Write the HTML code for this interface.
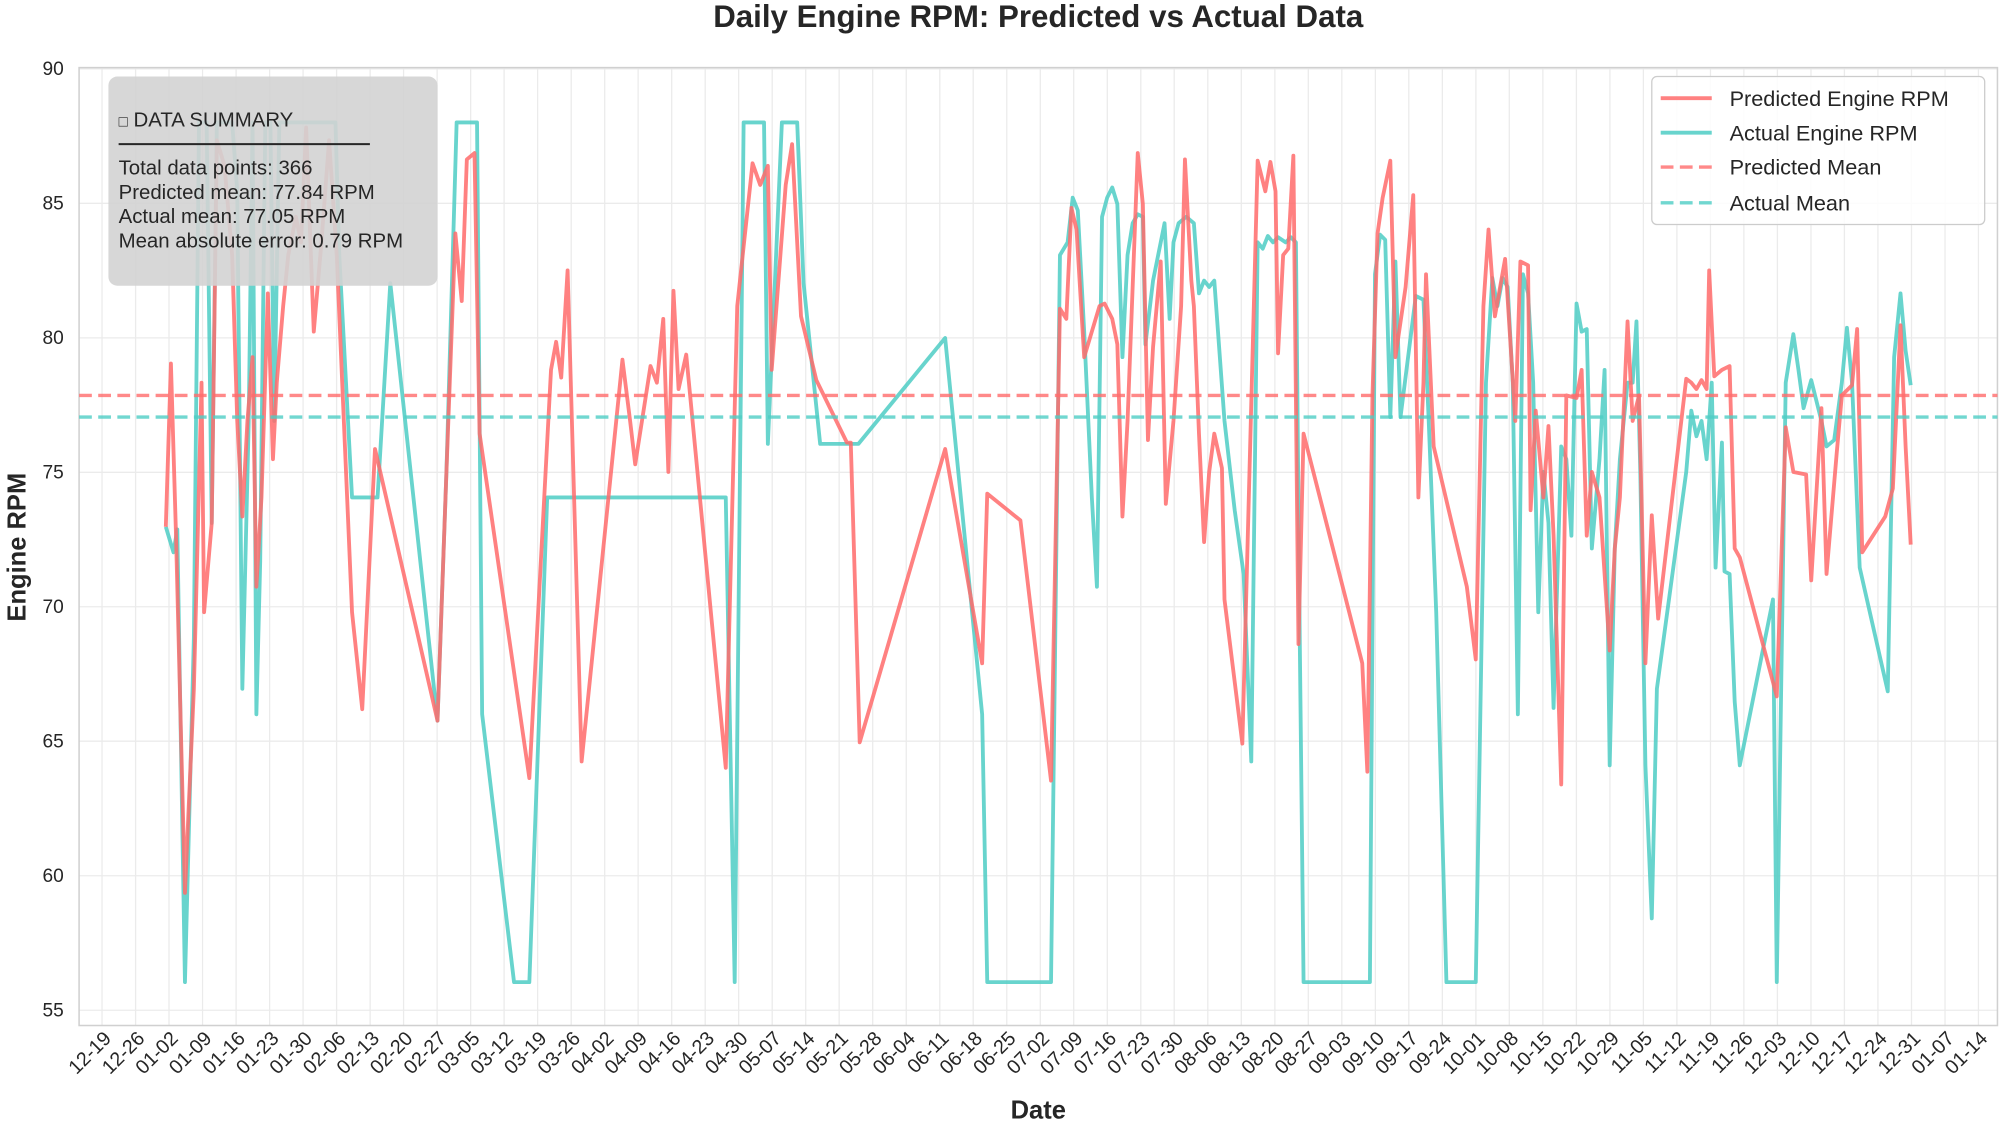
<!DOCTYPE html>
<html><head><meta charset="utf-8"><style>
html,body{margin:0;padding:0;background:#fff;}
svg{display:block;font-family:"Liberation Sans",Arial,sans-serif;}
</style></head><body>
<svg width="2000" height="1125" viewBox="0 0 1568 882" preserveAspectRatio="none" xmlns="http://www.w3.org/2000/svg">
<rect width="1568" height="882" fill="#fff"/>
<text x="814" y="21" text-anchor="middle" font-size="24.5" font-weight="bold" fill="#262626">Daily Engine RPM: Predicted vs Actual Data</text>
<g stroke="#ebebeb" stroke-width="1">
<line x1="62" x2="1566" y1="792" y2="792"/><line x1="62" x2="1566" y1="686.6" y2="686.6"/><line x1="62" x2="1566" y1="581.1" y2="581.1"/><line x1="62" x2="1566" y1="475.7" y2="475.7"/><line x1="62" x2="1566" y1="370.3" y2="370.3"/><line x1="62" x2="1566" y1="264.9" y2="264.9"/><line x1="62" x2="1566" y1="159.4" y2="159.4"/><line x1="62" x2="1566" y1="54" y2="54"/>
<path d="M80 53V804M106.3 53V804M132.5 53V804M158.8 53V804M185.1 53V804M211.4 53V804M237.6 53V804M263.9 53V804M290.2 53V804M316.4 53V804M342.7 53V804M369 53V804M395.2 53V804M421.5 53V804M447.8 53V804M474.1 53V804M500.3 53V804M526.6 53V804M552.9 53V804M579.1 53V804M605.4 53V804M631.7 53V804M657.9 53V804M684.2 53V804M710.5 53V804M736.8 53V804M763 53V804M789.3 53V804M815.6 53V804M841.8 53V804M868.1 53V804M894.4 53V804M920.6 53V804M946.9 53V804M973.2 53V804M999.5 53V804M1025.7 53V804M1052 53V804M1078.3 53V804M1104.5 53V804M1130.8 53V804M1157.1 53V804M1183.3 53V804M1209.6 53V804M1235.9 53V804M1262.2 53V804M1288.4 53V804M1314.7 53V804M1341 53V804M1367.2 53V804M1393.5 53V804M1419.8 53V804M1446 53V804M1472.3 53V804M1498.6 53V804M1524.9 53V804M1551.1 53V804"/>
</g>
<rect x="62" y="53" width="1504" height="751" fill="none" stroke="#d0d0d0" stroke-width="1.2"/>
<g font-size="15" fill="#262626" text-anchor="end">
<text x="50" y="797">55</text><text x="50" y="691.6">60</text><text x="50" y="586.1">65</text><text x="50" y="480.7">70</text><text x="50" y="375.3">75</text><text x="50" y="269.9">80</text><text x="50" y="164.4">85</text><text x="50" y="59">90</text>
</g>
<text transform="translate(20 429) rotate(-90)" text-anchor="middle" font-size="20" font-weight="bold" fill="#262626">Engine RPM</text>
<text x="814" y="877" text-anchor="middle" font-size="20" font-weight="bold" fill="#262626">Date</text>
<g font-size="15.5" fill="#262626" text-anchor="end">
<text transform="translate(88 815) rotate(-45)">12-19</text><text transform="translate(114.3 815) rotate(-45)">12-26</text><text transform="translate(140.5 815) rotate(-45)">01-02</text><text transform="translate(166.8 815) rotate(-45)">01-09</text><text transform="translate(193.1 815) rotate(-45)">01-16</text><text transform="translate(219.4 815) rotate(-45)">01-23</text><text transform="translate(245.6 815) rotate(-45)">01-30</text><text transform="translate(271.9 815) rotate(-45)">02-06</text><text transform="translate(298.2 815) rotate(-45)">02-13</text><text transform="translate(324.4 815) rotate(-45)">02-20</text><text transform="translate(350.7 815) rotate(-45)">02-27</text><text transform="translate(377 815) rotate(-45)">03-05</text><text transform="translate(403.2 815) rotate(-45)">03-12</text><text transform="translate(429.5 815) rotate(-45)">03-19</text><text transform="translate(455.8 815) rotate(-45)">03-26</text><text transform="translate(482.1 815) rotate(-45)">04-02</text><text transform="translate(508.3 815) rotate(-45)">04-09</text><text transform="translate(534.6 815) rotate(-45)">04-16</text><text transform="translate(560.9 815) rotate(-45)">04-23</text><text transform="translate(587.1 815) rotate(-45)">04-30</text><text transform="translate(613.4 815) rotate(-45)">05-07</text><text transform="translate(639.7 815) rotate(-45)">05-14</text><text transform="translate(665.9 815) rotate(-45)">05-21</text><text transform="translate(692.2 815) rotate(-45)">05-28</text><text transform="translate(718.5 815) rotate(-45)">06-04</text><text transform="translate(744.8 815) rotate(-45)">06-11</text><text transform="translate(771 815) rotate(-45)">06-18</text><text transform="translate(797.3 815) rotate(-45)">06-25</text><text transform="translate(823.6 815) rotate(-45)">07-02</text><text transform="translate(849.8 815) rotate(-45)">07-09</text><text transform="translate(876.1 815) rotate(-45)">07-16</text><text transform="translate(902.4 815) rotate(-45)">07-23</text><text transform="translate(928.6 815) rotate(-45)">07-30</text><text transform="translate(954.9 815) rotate(-45)">08-06</text><text transform="translate(981.2 815) rotate(-45)">08-13</text><text transform="translate(1007.5 815) rotate(-45)">08-20</text><text transform="translate(1033.7 815) rotate(-45)">08-27</text><text transform="translate(1060 815) rotate(-45)">09-03</text><text transform="translate(1086.3 815) rotate(-45)">09-10</text><text transform="translate(1112.5 815) rotate(-45)">09-17</text><text transform="translate(1138.8 815) rotate(-45)">09-24</text><text transform="translate(1165.1 815) rotate(-45)">10-01</text><text transform="translate(1191.3 815) rotate(-45)">10-08</text><text transform="translate(1217.6 815) rotate(-45)">10-15</text><text transform="translate(1243.9 815) rotate(-45)">10-22</text><text transform="translate(1270.2 815) rotate(-45)">10-29</text><text transform="translate(1296.4 815) rotate(-45)">11-05</text><text transform="translate(1322.7 815) rotate(-45)">11-12</text><text transform="translate(1349 815) rotate(-45)">11-19</text><text transform="translate(1375.2 815) rotate(-45)">11-26</text><text transform="translate(1401.5 815) rotate(-45)">12-03</text><text transform="translate(1427.8 815) rotate(-45)">12-10</text><text transform="translate(1454 815) rotate(-45)">12-17</text><text transform="translate(1480.3 815) rotate(-45)">12-24</text><text transform="translate(1506.6 815) rotate(-45)">12-31</text><text transform="translate(1532.9 815) rotate(-45)">01-07</text><text transform="translate(1559.1 815) rotate(-45)">01-14</text>
</g>
<polyline fill="none" stroke="#4ecdc4" stroke-opacity="0.85" stroke-width="3" stroke-linejoin="round" points="130,413 136,433 139,415 145,770 152,500 156,96 162,96 166,410 170,96 176,96 182,96 186,150 190,540 195,330 198,96 201,560 204,440 208,96 212,96 215,330 219,96 226,96 233,96 240,96 247,96 254,96 260,96 263,96 266,200 276,390 296,390 306,222 343,565 350,370 358,96 374,96 378,560 403,770 415,770 429,390 569,390 576,770 583,96 599,96 602,348 613,96 625,96 630,222 643,348 673,348 741,265 770,560 774,770 824,770 831,200 837,190 841,155 845,165 850,260 856,390 860,460 864,170 868,155 872,147 876,160 880,280 884,200 888,175 892,168 896,170 898,270 904,220 908,200 913,175 917,250 920,190 924,175 930,170 936,175 940,230 944,220 948,225 952,220 960,330 968,400 975,450 981,597 986,190 990,195 994,185 998,190 1002,186 1008,190 1012,186 1016,190 1019,500 1022,770 1074,770 1078,215 1082,184 1086,188 1090,327 1094,205 1098,327 1110,232 1116,235 1120,327 1126,480 1134,770 1157,770 1165,300 1170,218 1174,240 1178,218 1182,225 1186,300 1190,560 1194,215 1198,230 1202,300 1206,480 1210,370 1214,410 1218,555 1224,350 1228,360 1232,420 1236,238 1240,260 1244,258 1248,430 1254,360 1258,290 1262,600 1266,430 1270,360 1276,300 1280,300 1283,252 1286,370 1290,600 1295,720 1299,540 1322,370 1326,322 1330,342 1334,330 1338,360 1342,300 1345,445 1350,347 1352,448 1356,450 1360,550 1364,600 1390,470 1393,770 1400,300 1406,262 1410,290 1414,320 1420,298 1428,330 1432,350 1438,345 1444,300 1448,257 1452,300 1458,445 1480,542 1485,280 1490,230 1494,275 1498,302"/>
<polyline fill="none" stroke="#ff6b6b" stroke-opacity="0.85" stroke-width="3" stroke-linejoin="round" points="130,413 134,285 138,420 145,700 152,540 158,300 160,480 166,410 170,110 176,130 182,200 186,330 190,405 194,330 198,280 201,460 205,390 210,230 214,360 217,300 222,240 226,200 232,170 236,190 240,100 246,260 252,190 258,110 264,200 276,480 284,556 294,352 343,565 350,370 357,183 362,236 366,125 372,120 376,340 415,610 432,290 436,268 440,296 445,212 456,597 488,282 494,330 498,364 510,287 515,300 520,250 524,370 528,228 532,305 538,278 569,602 578,240 590,128 596,145 602,130 605,290 616,145 621,113 628,248 640,298 664,347 667,347 674,582 741,352 770,520 774,387 800,408 824,612 831,242 836,250 840,163 844,180 850,280 856,260 862,240 866,238 872,250 876,270 880,405 884,330 892,120 896,160 900,345 904,272 910,205 914,395 920,330 926,240 929,125 934,220 936,240 940,340 944,425 948,370 952,340 958,367 960,470 974,583 986,126 992,150 996,127 1000,150 1002,277 1006,200 1010,195 1014,122 1018,505 1022,340 1068,520 1072,605 1076,310 1080,183 1084,155 1090,126 1094,280 1102,225 1108,153 1112,390 1116,300 1118,215 1124,350 1150,460 1157,517 1163,240 1167,180 1172,248 1180,203 1184,266 1188,330 1192,205 1198,208 1200,400 1204,322 1210,390 1214,334 1218,420 1224,615 1228,310 1236,312 1240,290 1244,420 1248,370 1254,390 1262,510 1266,430 1270,390 1276,252 1280,330 1285,310 1290,520 1295,404 1300,485 1322,297 1326,300 1330,305 1334,298 1338,305 1340,212 1344,295 1350,290 1356,287 1360,430 1364,437 1393,546 1400,335 1406,370 1416,372 1420,455 1428,320 1432,450 1440,355 1444,310 1452,302 1456,258 1460,433 1478,405 1484,383 1490,255 1494,350 1498,427"/>
<line x1="62" x2="1566" y1="310" y2="310" stroke="#ff6b6b" stroke-opacity="0.8" stroke-width="2.6" stroke-dasharray="10,5"/>
<line x1="62" x2="1566" y1="327" y2="327" stroke="#4ecdc4" stroke-opacity="0.8" stroke-width="2.6" stroke-dasharray="10,5"/>
<rect x="85" y="60" width="258" height="164" rx="7" fill="#d3d3d3" fill-opacity="0.9"/>
<g font-size="16" fill="#262626">
<text x="93" y="99"><tspan font-size="12">□</tspan> DATA SUMMARY</text>
<line x1="93" x2="290" y1="113" y2="113" stroke="#262626" stroke-width="1.5"/>
<text x="93" y="137">Total data points: 366</text>
<text x="93" y="156">Predicted mean: 77.84 RPM</text>
<text x="93" y="175">Actual mean: 77.05 RPM</text>
<text x="93" y="194">Mean absolute error: 0.79 RPM</text>
</g>
<rect x="1295" y="60" width="261" height="116" rx="4" fill="#fff" fill-opacity="0.85" stroke="#cccccc"/>
<line x1="1302" x2="1342" y1="77" y2="77" stroke="#ff6b6b" stroke-opacity="0.85" stroke-width="3"/>
<line x1="1302" x2="1342" y1="104" y2="104" stroke="#4ecdc4" stroke-opacity="0.85" stroke-width="3"/>
<line x1="1302" x2="1342" y1="131" y2="131" stroke="#ff6b6b" stroke-opacity="0.8" stroke-width="2.6" stroke-dasharray="10,5"/>
<line x1="1302" x2="1342" y1="159" y2="159" stroke="#4ecdc4" stroke-opacity="0.8" stroke-width="2.6" stroke-dasharray="10,5"/>
<g font-size="17" fill="#262626">
<text x="1356" y="83">Predicted Engine RPM</text>
<text x="1356" y="110">Actual Engine RPM</text>
<text x="1356" y="137">Predicted Mean</text>
<text x="1356" y="165">Actual Mean</text>
</g>
</svg>
</body></html>
